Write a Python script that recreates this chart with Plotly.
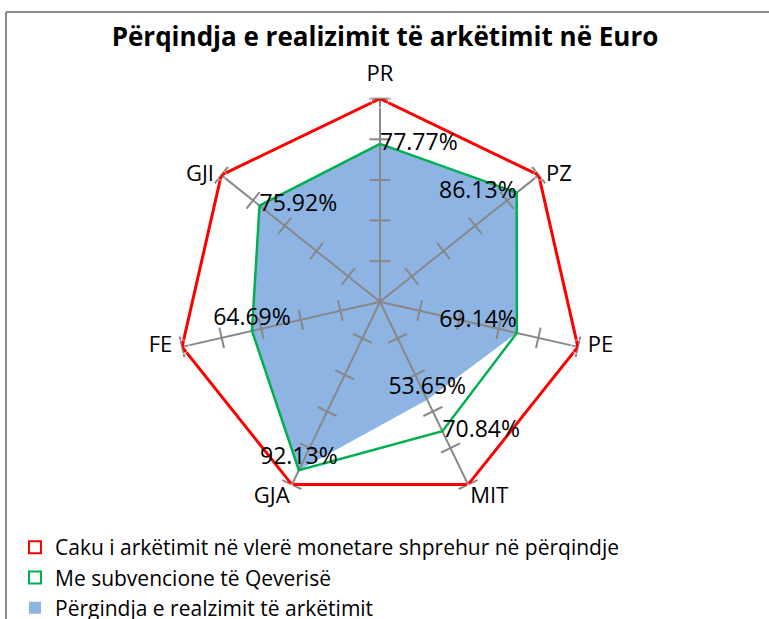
import plotly.graph_objects as go

# ---- data ----
categories = ["PR", "PZ", "PE", "MIT", "GJA", "FE", "GJI"]
target = [100, 100, 100, 100, 100, 100, 100]
subsidy = [77.77, 86.13, 69.14, 70.84, 92.13, 64.69, 75.92]
realized = [77.77, 86.13, 69.14, 53.65, 92.13, 64.69, 75.92]
tick_levels = [20, 40, 60, 80, 100]

title = "Përqindja e realizimit të arkëtimit në Euro"
name_target = "Caku i arkëtimit në vlerë monetare shprehur në përqindje"
name_subsidy = "Me subvencione të Qeverisë"
name_realized = "Përgindja e realzimit të arkëtimit"

# ---- layout geometry ----
W, H = 769, 619
cx, cy, R = 380, 301.7, 203
FONT = "Open Sans"
GRAY = "#888888"
RMAX = 100

def closed(v):
    return list(v) + [v[0]]

fig = go.Figure()

# blue filled area
fig.add_trace(go.Scatterpolar(
    r=closed(realized), theta=closed(categories), mode="lines",
    fill="toself", fillcolor="#8EB4E3", line=dict(width=0, color="#8EB4E3"),
    showlegend=False, hoverinfo="skip"))

# spokes drawn above the fill
sp_r, sp_t = [], []
for c in categories:
    sp_r += [0, RMAX, None]
    sp_t += [c, c, None]
fig.add_trace(go.Scatterpolar(
    r=sp_r, theta=sp_t, mode="lines", line=dict(color=GRAY, width=2),
    showlegend=False, hoverinfo="skip"))

# tick marks on each spoke
n = len(categories)
tk_r, tk_t, tk_a = [], [], []
for i, c in enumerate(categories):
    for lv in tick_levels:
        tk_r.append(lv)
        tk_t.append(c)
        tk_a.append(i * 360.0 / n)
fig.add_trace(go.Scatterpolar(
    r=tk_r, theta=tk_t, mode="markers",
    marker=dict(symbol="line-ew", size=15, angle=tk_a,
                line=dict(color=GRAY, width=2)),
    showlegend=False, hoverinfo="skip"))

# green line
fig.add_trace(go.Scatterpolar(
    r=closed(subsidy), theta=closed(categories), mode="lines",
    line=dict(color="#00B050", width=2.5), showlegend=False, hoverinfo="skip"))

# red line
fig.add_trace(go.Scatterpolar(
    r=closed(target), theta=closed(categories), mode="lines",
    line=dict(color="#FF0000", width=3), showlegend=False, hoverinfo="skip"))

# category labels placed like the original
cat_pos = ["top center", "middle right", "middle right", "bottom right",
           "bottom left", "middle left", "middle left"]
cat_pad = [18, 10, 14, 2, 2, 14, 10]
fig.add_trace(go.Scatterpolar(
    r=[RMAX] * n, theta=categories, mode="markers+text", text=categories,
    textposition=cat_pos, cliponaxis=False,
    marker=dict(size=cat_pad, color="rgba(0,0,0,0)"),
    textfont=dict(family=FONT, size=22, color="#000000"),
    showlegend=False, hoverinfo="skip"))

# data labels
lab_pos = ["middle right", "middle left", "top left", "top center",
           "top center", "top center", "middle right"]
fig.add_trace(go.Scatterpolar(
    r=realized, theta=categories, mode="text",
    text=[f"{v:.2f}%" for v in realized], textposition=lab_pos,
    textfont=dict(family=FONT, size=23, color="#000000"),
    showlegend=False, hoverinfo="skip"))
fig.add_trace(go.Scatterpolar(
    r=[subsidy[3]], theta=[categories[3]], mode="text",
    text=[f"{subsidy[3]:.2f}%"], textposition=["middle right"],
    textfont=dict(family=FONT, size=23, color="#000000"),
    showlegend=False, hoverinfo="skip"))

# legend entries (square keys like the original)
for nm, sym, col, lw in [(name_target, "square-open", "#FF0000", 2.5),
                         (name_subsidy, "square-open", "#00B050", 2.5),
                         (name_realized, "square", "#8EB4E3", 0)]:
    fig.add_trace(go.Scatterpolar(
        r=[None], theta=[None], mode="markers", name=nm,
        marker=dict(symbol=sym, size=14, color=col, line=dict(color=col, width=lw))))

fig.update_layout(
    width=W, height=H,
    margin=dict(l=0, r=0, t=0, b=0, autoexpand=False),
    paper_bgcolor="white",
    font=dict(family=FONT, color="#000000"),
    title=dict(text="<b>" + title + "</b>", x=385 / W, xanchor="center",
               y=1 - 37 / H, yanchor="middle",
               font=dict(family=FONT, size=26, color="#000000")),
    polar=dict(
        domain=dict(x=[(cx - R) / W, (cx + R) / W],
                    y=[1 - (cy + R) / H, 1 - (cy - R) / H]),
        bgcolor="rgba(0,0,0,0)",
        radialaxis=dict(visible=False, range=[0, RMAX]),
        angularaxis=dict(rotation=90, direction="clockwise", showgrid=False,
                         showline=False, ticks="", showticklabels=False),
    ),
    legend=dict(x=15 / W, xanchor="left", y=1 - 527 / H, yanchor="top",
                font=dict(family=FONT, size=21, color="#000000"),
                bgcolor="rgba(0,0,0,0)", itemsizing="constant"),
    shapes=[
        dict(type="line", xref="paper", yref="paper", x0=6 / W, x1=1.05,
             y0=1 - 12 / H, y1=1 - 12 / H, line=dict(color="#8a8a8a", width=2)),
        dict(type="line", xref="paper", yref="paper", x0=6 / W, x1=6 / W,
             y0=1 - 12 / H, y1=-0.05, line=dict(color="#8a8a8a", width=2)),
    ],
)

fig.write_html("out.html", config={"displayModeBar": False},
               post_script="document.body.style.margin='0';"
                           "document.body.style.overflow='hidden';")
